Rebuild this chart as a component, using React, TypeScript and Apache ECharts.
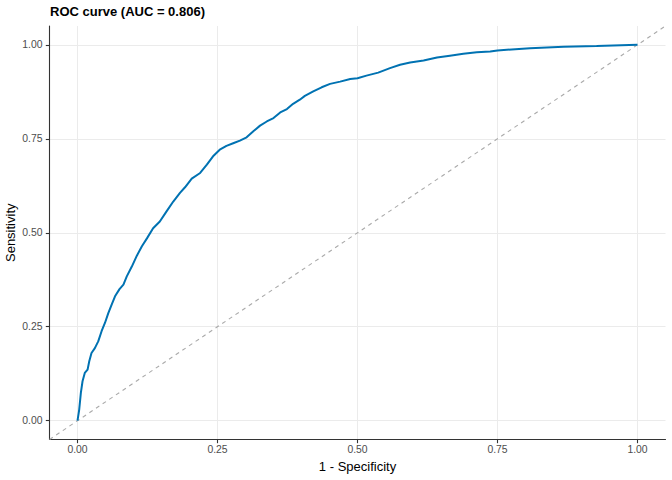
import React, { useEffect, useRef } from "react";
import * as echarts from "echarts";

const fpr = [0, 0.003, 0.006, 0.009, 0.013, 0.018, 0.021, 0.025, 0.031, 0.037, 0.043, 0.049, 0.055, 0.061, 0.067, 0.075, 0.082, 0.088, 0.097, 0.106, 0.115, 0.124, 0.135, 0.147, 0.159, 0.171, 0.183, 0.192, 0.204, 0.219, 0.231, 0.243, 0.254, 0.266, 0.278, 0.29, 0.302, 0.314, 0.326, 0.338, 0.35, 0.362, 0.374, 0.385, 0.397, 0.406, 0.421, 0.436, 0.451, 0.469, 0.487, 0.5, 0.516, 0.537, 0.558, 0.576, 0.594, 0.618, 0.642, 0.665, 0.689, 0.713, 0.737, 0.75, 0.808, 0.868, 0.927, 1.0];
const tpr = [0, 0.029, 0.074, 0.105, 0.127, 0.136, 0.158, 0.18, 0.193, 0.211, 0.238, 0.26, 0.286, 0.309, 0.331, 0.35, 0.362, 0.384, 0.41, 0.439, 0.464, 0.485, 0.512, 0.53, 0.557, 0.583, 0.606, 0.621, 0.644, 0.659, 0.681, 0.705, 0.721, 0.731, 0.738, 0.745, 0.754, 0.77, 0.785, 0.796, 0.805, 0.82, 0.829, 0.843, 0.854, 0.864, 0.876, 0.887, 0.896, 0.902, 0.909, 0.911, 0.918, 0.926, 0.938, 0.947, 0.953, 0.958, 0.966, 0.971, 0.976, 0.98, 0.982, 0.985, 0.991, 0.995, 0.997, 1.0];
const tickValues = [0, 0.25, 0.5, 0.75, 1];
const axisRange = [-0.05, 1.05];
const diagonal = [[-0.05, -0.05], [1.05, 1.05]];
const titleText = "ROC curve (AUC = 0.806)";
const xName = "1 - Specificity";
const yName = "Sensitivity";

const FONT = "Liberation Sans, Arial, Helvetica, sans-serif";

export default function App() {
  const ref = useRef<HTMLDivElement>(null);
  useEffect(() => {
    if (!ref.current) return;
    const chart = echarts.init(ref.current, null, { renderer: "svg" });
    const axisCommon = (name: string, isY: boolean) => ({
      type: "value",
      min: axisRange[0],
      max: axisRange[1],
      name,
      nameLocation: "middle",
      nameGap: isY ? 33 : 20,
      nameMoveOverlap: false,
      nameTextStyle: { fontFamily: FONT, fontSize: 13, color: "#000" },
      axisLine: { show: true, onZero: false, lineStyle: { color: "#333", width: 1.1 } },
      axisTick: {
        show: true,
        length: 3.7,
        customValues: tickValues,
        lineStyle: { color: "#333", width: 1.1 },
      },
      axisLabel: {
        show: true,
        customValues: tickValues,
        fontFamily: FONT,
        fontSize: 10.4,
        color: "#4D4D4D",
        margin: isY ? 7 : 5,
        formatter: (v: number) => v.toFixed(2),
      },
      splitLine: { show: true, lineStyle: { color: "#EBEBEB", width: 1 } },
    });
    chart.setOption({
      animation: false,
      backgroundColor: "#fff",
      title: {
        text: titleText,
        left: 50,
        top: 5,
        padding: 0,
        textStyle: { fontFamily: FONT, fontSize: 13, fontWeight: "bold", color: "#000" },
      },
      grid: { left: 49.5, right: 6.5, top: 26, bottom: 40.5, containLabel: false, outerBoundsMode: "none" },
      xAxis: axisCommon(xName, false),
      yAxis: { ...axisCommon(yName, true), nameRotate: 90 },
      series: [
        {
          type: "line",
          data: diagonal,
          symbol: "none",
          silent: true,
          lineStyle: { color: "#AAAAAA", width: 1.1, type: [4, 4] },
          z: 1,
        },
        {
          type: "line",
          data: fpr.map((x, i) => [x, tpr[i]]),
          symbol: "none",
          silent: true,
          lineStyle: { color: "#0072B2", width: 2 },
          z: 2,
        },
      ],
    });
    return () => chart.dispose();
  }, []);
  return <div ref={ref} style={{ position: "fixed", left: 0, top: 0, width: 672, height: 480 }} />;
}
